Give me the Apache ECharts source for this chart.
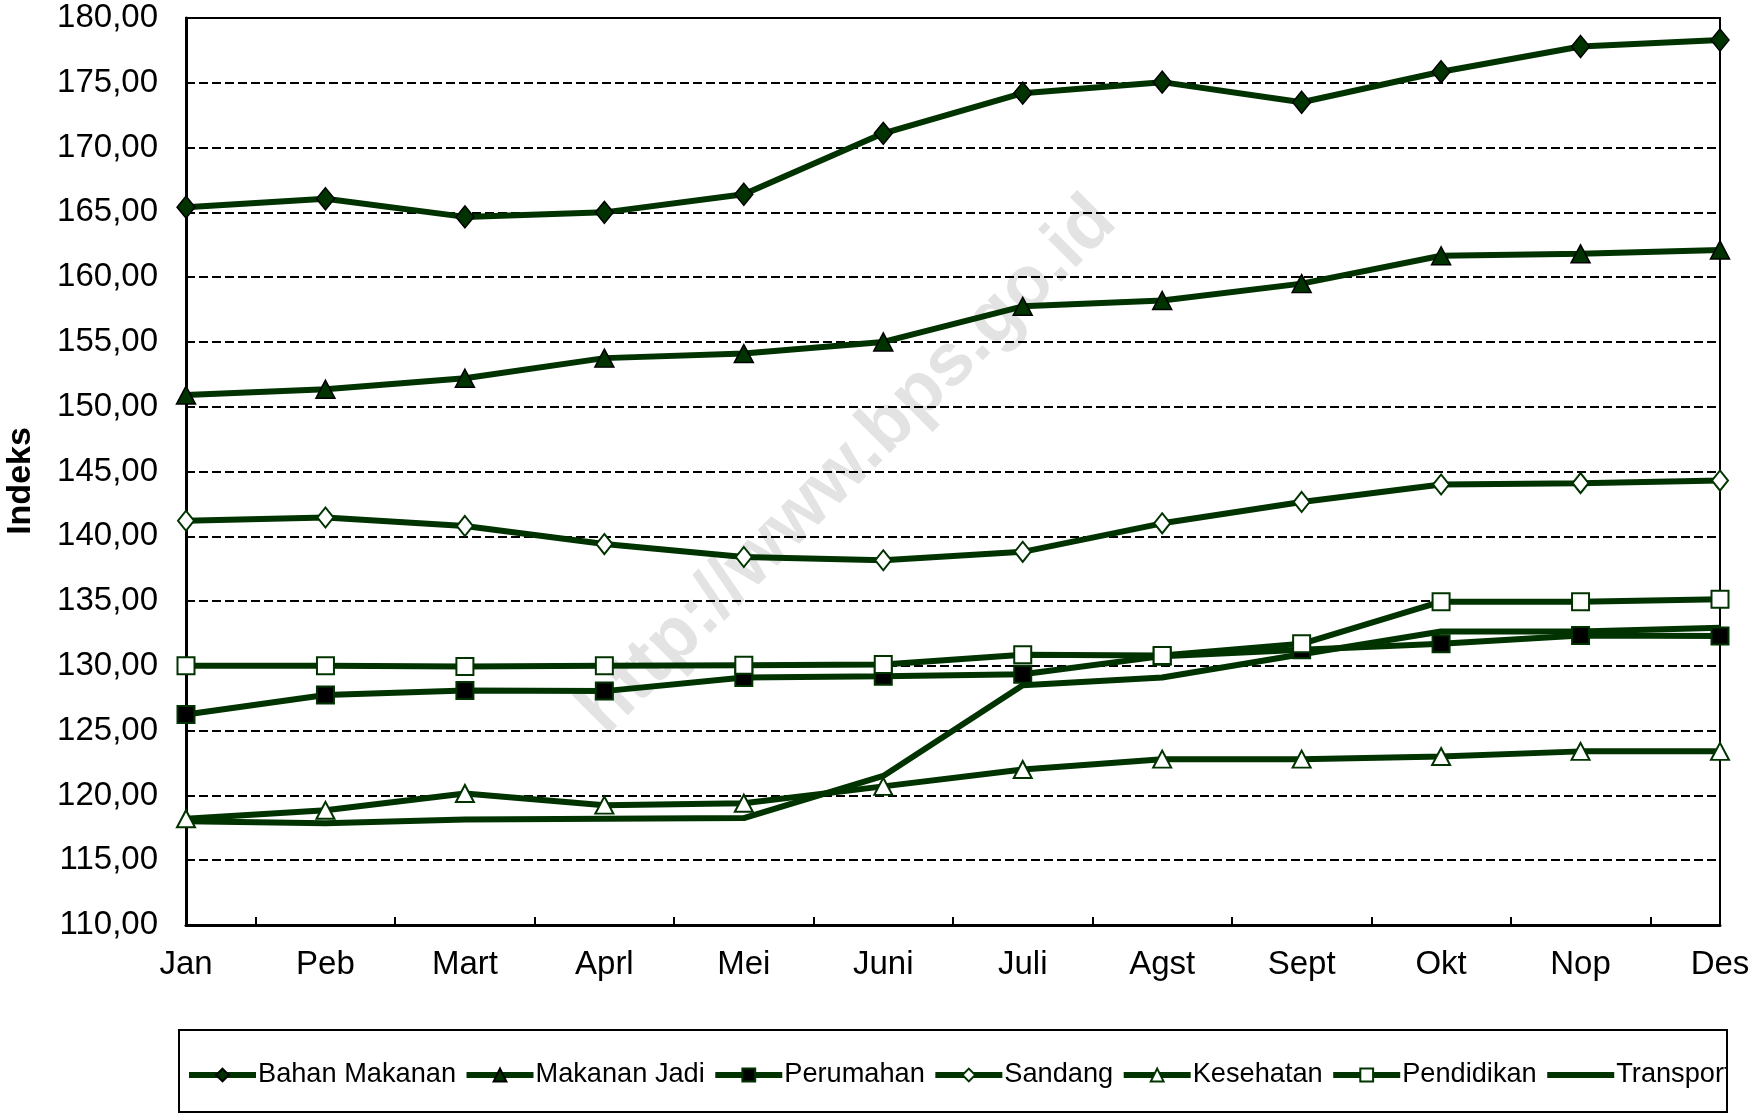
<!DOCTYPE html>
<html>
<head>
<meta charset="utf-8">
<script src="https://cdn.jsdelivr.net/npm/echarts@6/dist/echarts.min.js"></script>
<style>
html,body{margin:0;padding:0;background:#fff;}
#chart{width:1753px;height:1115px;}
</style>
</head>
<body>
<div id="chart"></div>
<script>
const months = ['Jan','Peb','Mart','Aprl','Mei','Juni','Juli','Agst','Sept','Okt','Nop','Des'];
const bahanMakanan = [165.4, 166.05, 164.65, 165.0, 166.4, 171.1, 174.2, 175.05, 173.5, 175.85, 177.8, 178.3];
const makananJadi  = [150.9, 151.35, 152.2, 153.75, 154.1, 155.0, 157.75, 158.2, 159.5, 161.65, 161.8, 162.1];
const perumahan    = [126.25, 127.75, 128.1, 128.05, 129.1, 129.2, 129.35, 130.75, 131.25, 131.7, 132.35, 132.3];
const sandang      = [141.2, 141.45, 140.8, 139.4, 138.4, 138.15, 138.8, 141.0, 142.65, 144.0, 144.1, 144.3];
const kesehatan    = [118.2, 118.85, 120.15, 119.25, 119.4, 120.7, 122.0, 122.8, 122.8, 123.0, 123.4, 123.4];
const pendidikan   = [130.0, 130.0, 129.95, 130.0, 130.05, 130.1, 130.85, 130.8, 131.7, 134.95, 134.95, 135.15];
const transport    = [118.0, 117.85, 118.15, 118.2, 118.25, 121.5, 128.5, 129.1, 130.9, 132.65, 132.65, 132.95];
const seriesNames = ['Bahan Makanan','Makanan Jadi','Perumahan','Sandang','Kesehatan','Pendidikan','Transport'];
const yMin = 110, yMax = 180, yStep = 5;

const G = '#003300';
const FONT = '"Liberation Sans", Arial, sans-serif';

function mk(name, data, symbol, size, fill, border, bw) {
  return {
    name: name, type: 'line', data: data,
    symbol: symbol, symbolSize: size, showSymbol: symbol !== 'none',
    lineStyle: {color: G, width: 6},
    itemStyle: {color: fill, borderColor: border, borderWidth: bw},
    z: 3, animation: false
  };
}

const chart = echarts.init(document.getElementById('chart'));
chart.setOption({
  backgroundColor: '#fff',
  animation: false,
  grid: {left: 186, right: 33, top: 18, bottom: 190, show: true, borderColor: '#000', borderWidth: 2, backgroundColor: 'transparent'},
  xAxis: [{
    type: 'category', data: months, boundaryGap: false,
    axisLine: {lineStyle: {color: '#000', width: 3}},
    axisTick: {show: false},
    axisLabel: {color: '#000', fontSize: 33, fontFamily: FONT, margin: 23, interval: 0}
  }, {
    type: 'category', data: months.slice(1), boundaryGap: true, position: 'bottom',
    axisLine: {show: false},
    axisTick: {show: true, inside: true, length: 8, alignWithLabel: true, lineStyle: {color: '#000', width: 2}},
    axisLabel: {show: false}, splitLine: {show: false}
  }],
  yAxis: {
    type: 'value', min: yMin, max: yMax, interval: yStep,
    axisLine: {show: true, lineStyle: {color: '#000', width: 3}},
    axisTick: {show: false},
    axisLabel: {color: '#000', fontSize: 33, fontFamily: FONT, margin: 28,
      formatter: v => v.toFixed(2).replace('.', ',')},
    splitLine: {show: true, lineStyle: {color: '#000', width: 2, type: [9, 4]}}
  },
  legend: {
    left: 186, top: 1060, width: 1600, padding: 0, itemWidth: 67, itemHeight: 16, itemGap: 7.5,
    lineStyle: {width: 6},
    textStyle: {color: '#000', fontSize: 27.2, fontFamily: FONT, lineHeight: 30, padding: [0,0,0,-3]},
    data: seriesNames.slice(0, 6).concat([{name: 'Transport', itemStyle: {opacity: 0}}])
  },
  graphic: [
    {type: 'text', x: 848, y: 466, rotation: Math.PI / 4, z: -1, silent: true,
     style: {text: 'http://www.bps.go.id', font: 'bold 74px ' + FONT, fill: '#e3e3e3', textAlign: 'center', textVerticalAlign: 'middle'}},
    {type: 'text', x: 21, y: 481, rotation: Math.PI / 2, silent: true,
     style: {text: 'Indeks', font: 'bold 34px ' + FONT, fill: '#000', textAlign: 'center', textVerticalAlign: 'middle'}},
    {type: 'rect', shape: {x: 1728, y: 1025, width: 40, height: 95}, style: {fill: '#fff'}, z: 100, silent: true},
    {type: 'rect', shape: {x: 179, y: 1030, width: 1548, height: 82}, style: {fill: 'none', stroke: '#000', lineWidth: 2}, z: 101, silent: true}
  ],
  series: [
    mk(seriesNames[0], bahanMakanan, 'diamond', [18, 22], G, '#000', 1.5),
    mk(seriesNames[1], makananJadi, 'triangle', [19, 18], G, '#000', 1.5),
    mk(seriesNames[2], perumahan, 'rect', [17, 17], '#000', G, 2),
    mk(seriesNames[3], sandang, 'diamond', [16, 20], '#fff', G, 2),
    mk(seriesNames[4], kesehatan, 'triangle', [18, 17], '#fff', G, 2),
    mk(seriesNames[5], pendidikan, 'rect', [17, 17], '#fff', G, 2),
    mk(seriesNames[6], transport, 'none', 0, G, G, 0)
  ]
});
</script>
</body>
</html>
